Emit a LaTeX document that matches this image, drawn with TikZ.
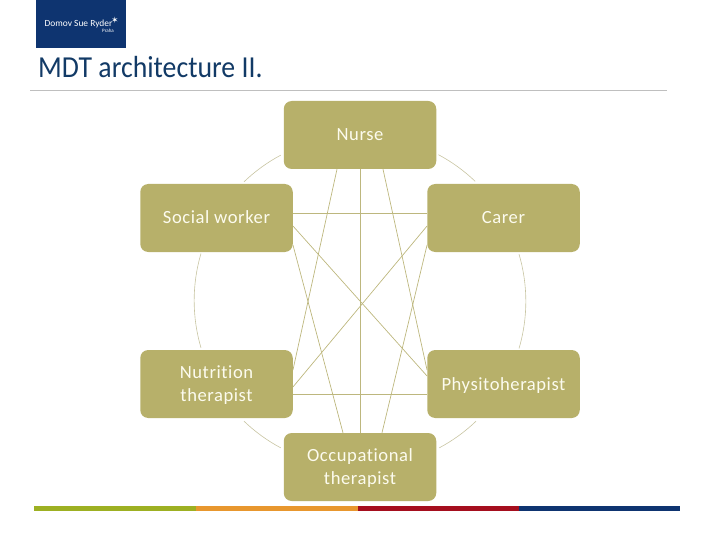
\documentclass[tikz,border=0pt]{standalone}
\usepackage{fontspec}
\setmainfont[Ligatures=NoCommon]{Carlito}
\newfontfamily\boxfont[LetterSpace=3,Ligatures=NoCommon]{Carlito}
\newfontfamily\titlefont[FakeStretch=0.91,Ligatures=NoCommon]{Carlito}
\newfontfamily\symfont{DejaVu Sans}
\definecolor{boxfill}{HTML}{B7B06A}
\definecolor{boxtext}{HTML}{FCFBEE}
\definecolor{navy}{HTML}{0E3470}
\definecolor{titleblue}{HTML}{123A66}
\definecolor{ringcol}{HTML}{C8C5A2}
\definecolor{linkcol}{HTML}{BDB77E}
\definecolor{barA}{HTML}{9DB022}
\definecolor{barB}{HTML}{E8972E}
\definecolor{barC}{HTML}{A50E1E}
\tikzset{
  role/.style={fill=boxfill,text=boxtext,rounded corners=8pt,minimum width=152.5pt,minimum height=68pt,inner sep=0pt,align=center,font=\boxfont\fontsize{18.6}{22.5}\selectfont,text height=12pt,text depth=0pt},
  tworole/.style={role,text height=34.5pt},
  link/.style={draw=linkcol,line width=0.7pt},
  ring/.style={draw=ringcol,line width=0.6pt},
  band/.style={inner sep=0pt,minimum height=5pt,anchor=north west}
}
\begin{document}
\begin{tikzpicture}[x=1pt,y=-1pt]
\useasboundingbox (0,0) rectangle (720,540);
% header
\node[fill=navy,minimum width=90pt,minimum height=48pt,inner sep=0pt,anchor=north west] (logo) at (36,0) {};
\node[text=white,font=\fontsize{9.4}{9.4}\selectfont,inner sep=0pt] (logotext) at (78.5,23.5) {Domov Sue Ryder};
\node[text=white,font=\symfont\fontsize{9}{9}\selectfont,inner sep=0pt] (logostar) at (115,20) {✶};
\node[text=white,font=\fontsize{5}{5}\selectfont,inner sep=0pt] (logoplace) at (108,31) {Praha};
\node[text=titleblue,font=\titlefont\fontsize{30.5}{32}\selectfont,inner sep=0pt,anchor=base west] (title) at (38,78) {MDT architecture II.};
\coordinate (ruleL) at (30,90.5);
\coordinate (ruleR) at (667,90.5);
\draw[draw=black!25,line width=0.7pt] (ruleL) -- (ruleR);
% bottom bar
\node[band,fill=barA,minimum width=162pt] (b1) at (34,506) {};
\node[band,fill=barB,minimum width=162pt] (b2) at (196,506) {};
\node[band,fill=barC,minimum width=161pt] (b3) at (358,506) {};
\node[band,fill=navy,minimum width=161pt] (b4) at (519,506) {};
% boxes
\node[role] (nurse) at (360,135) {Nurse};
\node[role] (social) at (216.5,218) {Social worker};
\node[role] (carer) at (503.5,218) {Carer};
\node[tworole] (nutri) at (216.5,384) {Nutrition\\therapist};
\node[role] (physio) at (503.5,384) {Physitoherapist};
\node[tworole] (occup) at (360,467) {Occupational\\therapist};
% straight links
\draw[link] (nurse.south) -- (occup.north);
\draw[link] ([xshift=-23pt]nurse.south) -- ([yshift=14pt]nutri.east);
\draw[link] ([xshift=23pt]nurse.south) -- ([yshift=14pt]physio.west);
\draw[link] ([yshift=5pt]social.east) -- ([yshift=5pt]carer.west);
\draw[link] ([yshift=-10pt]nutri.east) -- ([yshift=-10pt]physio.west);
\draw[link] ([yshift=-8pt]social.east) -- ([yshift=8pt]physio.west);
\draw[link] ([yshift=-8pt]carer.west) -- ([yshift=-3pt]nutri.east);
\draw[link] ([yshift=-27pt]social.east) -- ([xshift=-17pt]occup.north);
\draw[link] ([yshift=-27pt]carer.west) -- ([xshift=22pt]occup.north);
% ring arcs
\draw[ring] ([shift={(2,-14.5)}]nurse.south east) arc[start angle=-61.9,end angle=-46.2,radius=166];
\draw[ring] ([shift={(15.5,2)}]carer.south) arc[start angle=-16.5,end angle=16.5,radius=166];
\draw[ring] ([shift={(-27.5,3)}]physio.south) arc[start angle=46.2,end angle=61.9,radius=166];
\draw[ring] ([shift={(27.5,3)}]nutri.south) arc[start angle=133.8,end angle=118.1,radius=166];
\draw[ring] ([shift={(-15.5,-2)}]nutri.north) arc[start angle=163.5,end angle=196.5,radius=166];
\draw[ring] ([shift={(27.5,-2)}]social.north) arc[start angle=-133.8,end angle=-118.1,radius=166];
\end{tikzpicture}
\end{document}
